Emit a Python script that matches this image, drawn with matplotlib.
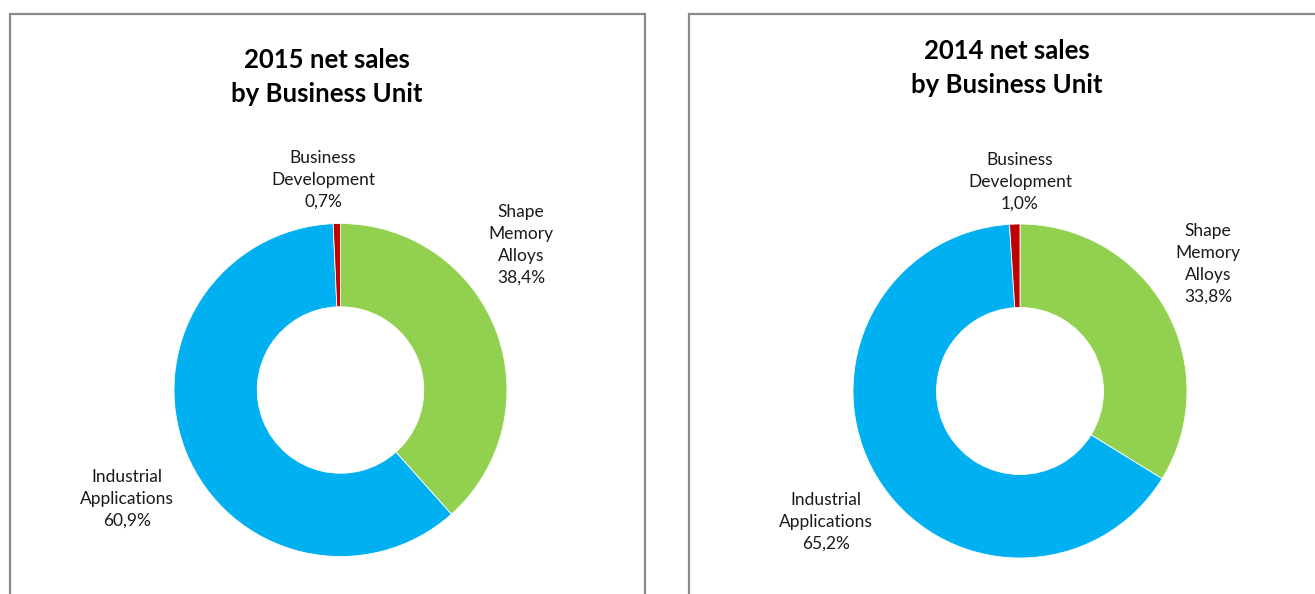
import matplotlib
matplotlib.use("Agg")
import matplotlib.pyplot as plt
from matplotlib.patches import Rectangle

# Net sales split by business unit (percent of total)
units = ["Shape\nMemory\nAlloys", "Industrial\nApplications", "Business\nDevelopment"]
sales_2015 = [38.4, 60.9, 0.7]
sales_2014 = [33.8, 65.2, 1.0]
titles = ["2015 net sales\nby Business Unit", "2014 net sales\nby Business Unit"]
colors = ["#92D050", "#00B0F0", "#C00000"]

W, H = 1315, 594
fig = plt.figure(figsize=(W / 100, H / 100), dpi=100)
ax = fig.add_axes([0, 0, 1, 1])

FONT = "Lato"


def fy(y):
    """Convert a top-down pixel row to axis coordinates."""
    return H - y


def pct(v):
    return f"{v:.1f}".replace(".", ",") + "%"


panels = [
    dict(values=sales_2015, title=titles[0], center=(340.5, 390), radius=166.5,
         title_xy=(327, 77),
         label_xy=[(521, 245), (127, 499), (323, 180)]),
    dict(values=sales_2014, title=titles[1], center=(1020, 391), radius=167,
         title_xy=(1007, 68),
         label_xy=[(1208, 264), (826, 522), (1020, 182)]),
]

for p in panels:
    cx, cy = p["center"]
    ax.pie(p["values"], colors=colors, startangle=90, counterclock=False,
           center=(cx, fy(cy)), radius=p["radius"],
           wedgeprops=dict(width=p["radius"] * 0.5, edgecolor="white", linewidth=0.6))
    ax.text(p["title_xy"][0], fy(p["title_xy"][1]), p["title"], ha="center", va="center",
            fontsize=18.5, fontweight="bold", family=FONT, linespacing=1.47, color="black")
    for name, v, (lx, ly) in zip(units, p["values"], p["label_xy"]):
        ax.text(lx, fy(ly), f"{name}\n{pct(v)}", ha="center", va="center",
                fontsize=12.5, family=FONT, linespacing=1.46, color="#1a1a1a")

# Panel frames
ax.add_patch(Rectangle((10.5, fy(700)), 635, 700 - 13.5, fill=False,
                       edgecolor="#8a8a8a", linewidth=1.6))
ax.add_patch(Rectangle((689.5, fy(700)), 700, 700 - 13.5, fill=False,
                       edgecolor="#8a8a8a", linewidth=1.6))

ax.set_xlim(0, W)
ax.set_ylim(0, H)
ax.set_aspect("equal")
ax.axis("off")

fig.savefig("out.png", dpi=100, facecolor="white")
